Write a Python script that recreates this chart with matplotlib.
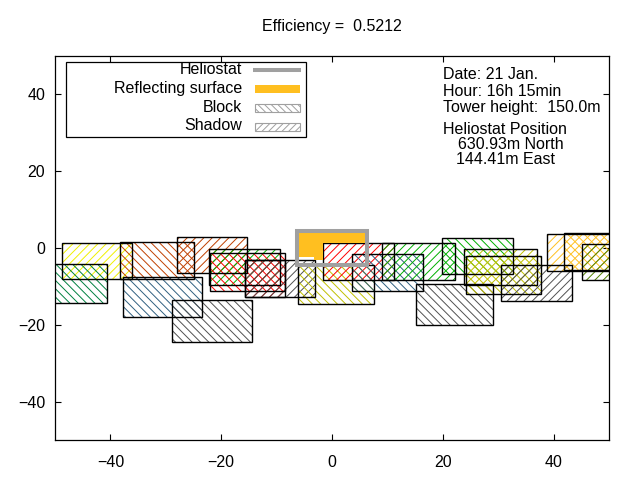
import matplotlib
matplotlib.use("Agg")
import matplotlib.pyplot as plt
from matplotlib.patches import Rectangle, Polygon

plt.rcParams['font.family'] = ['Liberation Sans', 'DejaVu Sans']
plt.rcParams['hatch.linewidth'] = 0.7

# block / shadow rectangles cast by the neighbouring heliostats
rect_x0 = [-48.8, -51.9, -38.3, -28.0, -37.8, -28.9, -22.2, -22.0, -15.7, -15.7,
           -6.1, -1.6, 3.6, 9.0, 19.9, 15.2, 23.9, 24.2, 30.5, 38.8, 41.9, 45.2]
rect_x1 = [-36.1, -40.6, -24.9, -15.4, -23.5, -14.5, -9.4, -8.5, -8.5, -3.1,
           7.6, 11.2, 16.4, 22.2, 32.7, 29.1, 37.0, 37.8, 43.4, 52.0, 53.8, 55.6]
rect_y0 = [1.3, -4.2, 1.6, 2.9, -7.6, -13.5, -0.3, -1.3, -3.1, -3.1,
           -4.4, 1.3, -1.6, 1.3, 2.6, -9.4, -0.3, -2.1, -4.4, 3.7, 3.9, 1.0]
rect_y1 = [-8.1, -14.3, -8.1, -6.5, -18.0, -24.5, -9.6, -11.2, -12.8, -12.8,
           -14.6, -8.3, -11.2, -8.3, -6.8, -20.1, -9.6, -12.0, -13.8, -6.0, -5.7, -8.3]
rect_kind = ['shadow', 'block', 'block', 'shadow', 'block', 'block', 'shadow', 'block',
             'shadow', 'shadow', 'block', 'shadow', 'block', 'shadow', 'block', 'block',
             'shadow', 'block', 'shadow', 'shadow', 'block', 'shadow']
rect_neighbor = [0, 1, 2, 2, 3, 4, 5, 6, 6, 4, 7, 6, 3, 5, 5, 4, 7, 7, 4, 8, 8, 9]

neighbor_colors = ['#f0f000', '#008040', '#c04000', '#306080', '#505050',
                   '#00b000', '#ff0000', '#c0c000', '#ffc020', '#508000']

# heliostat (centre 0,0) and what is left of its reflecting surface
helio_w, helio_h = 12.8, 9.1
surf_x = [-6.4, 6.4, 6.4, -1.6, -1.6, -3.25, -3.25, -6.4]
surf_y = [4.55, 4.55, 1.3, 1.3, -3.1, -3.1, -2.3, -2.3]

efficiency = 0.5212
info = ["Date: 21 Jan.", "Hour: 16h 15min", "Tower height:  150.0m"]
position = ["Heliostat Position", "630.93m North", "144.41m East"]

FS = 11.5

fig = plt.figure(figsize=(6.4, 4.8), dpi=100)
ax = fig.add_axes([55/640, 40/480, 554/640, 384/480])

hatches = {'block': '\\\\\\\\', 'shadow': '////'}
for i in range(len(rect_x0)):
    x0, x1 = rect_x0[i], rect_x1[i]
    y0, y1 = rect_y1[i], rect_y0[i]
    col = neighbor_colors[rect_neighbor[i]]
    ax.add_patch(Rectangle((x0, y0), x1 - x0, y1 - y0, fill=False, lw=0,
                           edgecolor=col, hatch=hatches[rect_kind[i]], zorder=2))
for i in range(len(rect_x0)):
    x0, x1 = rect_x0[i], rect_x1[i]
    y0, y1 = rect_y1[i], rect_y0[i]
    ax.add_patch(Rectangle((x0, y0), x1 - x0, y1 - y0, fill=False, lw=1.0,
                           edgecolor='black', zorder=3))

ax.add_patch(Polygon(list(zip(surf_x, surf_y)), closed=True, facecolor='#ffbf20',
                     edgecolor='none', zorder=4))
ax.add_patch(Rectangle((-helio_w/2, -helio_h/2), helio_w, helio_h, fill=False,
                       edgecolor='#a0a0a0', lw=2.9, zorder=5))

ax.set_xlim(-50, 50)
ax.set_ylim(-50, 50)
ax.set_xticks([-40, -20, 0, 20, 40])
ax.set_yticks([-40, -20, 0, 20, 40])
ax.tick_params(direction='in', length=4.5, top=True, right=True, labelsize=FS)
ax.tick_params(axis='x', pad=11)
ax.tick_params(axis='y', pad=7)
for s in ax.spines.values():
    s.set_linewidth(0.9)

fig.text(332/640, 1 - 27/480, "Efficiency =  %.4f" % efficiency,
         ha='center', va='center', fontsize=FS)

# legend box drawn by hand, gnuplot style
def fx(px):
    return (px - 55) / 554.0

def fy(py):
    return (440 - py) / 384.0

T = ax.transAxes
ax.add_patch(Rectangle((fx(66), fy(137)), fx(306) - fx(66), fy(62) - fy(137), transform=T,
                       facecolor='white', edgecolor='black', lw=0.9, zorder=6))
labels = ["Heliostat", "Reflecting surface", "Block", "Shadow"]
rows = [70, 88.5, 107.5, 126]
for lab, r in zip(labels, rows):
    ax.text(fx(242), fy(r), lab, transform=T, ha='right', va='center', fontsize=FS, zorder=7)
ax.plot([fx(253), fx(301)], [fy(70), fy(70)], transform=T, color='#a0a0a0', lw=2.9,
        solid_capstyle='butt', zorder=7)
ax.add_patch(Rectangle((fx(255), fy(93.5)), fx(300) - fx(255), fy(85) - fy(93.5), transform=T,
                       facecolor='#ffbf20', edgecolor='none', zorder=7))
ax.add_patch(Rectangle((fx(255), fy(112)), fx(300) - fx(255), fy(104.5) - fy(112), transform=T,
                       facecolor='white', edgecolor='#a0a0a0', hatch='\\\\\\\\\\', lw=0.8, zorder=7))
ax.add_patch(Rectangle((fx(255), fy(131)), fx(300) - fx(255), fy(123.5) - fy(131), transform=T,
                       facecolor='white', edgecolor='#a0a0a0', hatch='/////', lw=0.8, zorder=7))

for txt, r in zip(info, [75, 92, 108]):
    ax.text(fx(443), fy(r), txt, transform=T, ha='left', va='center', fontsize=FS, zorder=7)
for txt, px, r in zip(position, [443, 458, 456], [130, 145, 160]):
    ax.text(fx(px), fy(r), txt, transform=T, ha='left', va='center', fontsize=FS, zorder=7)

fig.savefig("out.png", dpi=100)
